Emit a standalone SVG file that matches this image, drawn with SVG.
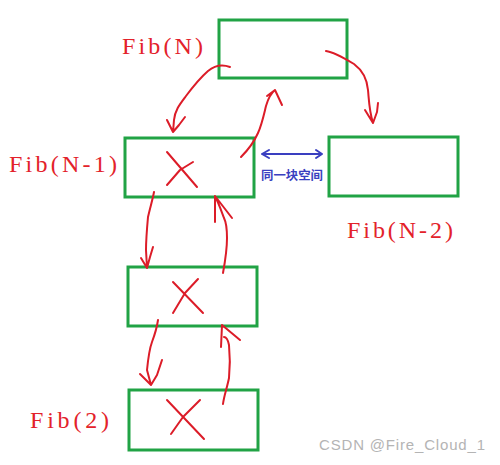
<svg xmlns="http://www.w3.org/2000/svg" width="500" height="465" viewBox="0 0 500 465">
<defs>
<style>
.box{fill:none;stroke:#21a345;stroke-width:3}
.lbl{font-family:"Liberation Serif",serif;font-size:24px;fill:#e3222a}
.red{fill:none;stroke:#dc1c28;stroke-width:2;stroke-linecap:round;stroke-linejoin:round}
.blue{fill:none;stroke:#3a3fc0;stroke-width:2;stroke-linecap:round;stroke-linejoin:round}
.note{font-family:"Noto Sans CJK SC","Liberation Sans",sans-serif;font-size:12px;font-weight:bold;fill:#3a3fc0}
.wm{font-family:"Liberation Sans",sans-serif;font-size:15px;fill:#b4b4b4}
</style>
</defs>
<rect width="500" height="465" fill="#ffffff"/>
<g id="fibN">
<rect class="box" x="219" y="20" width="128" height="58"/>
<text class="lbl" x="122" y="54" textLength="81" lengthAdjust="spacing">Fib(N)</text>
</g>
<g id="fibN1">
<rect class="box" x="125" y="138" width="129" height="59"/>
<path class="red" d="M167,152 L197,187 M167,185 L180,170 L193,162"/>
<text class="lbl" x="9" y="172" textLength="108" lengthAdjust="spacing">Fib(N-1)</text>
</g>
<g id="fibN2">
<rect class="box" x="329" y="137" width="129" height="59"/>
<text class="lbl" x="347" y="238" textLength="106" lengthAdjust="spacing">Fib(N-2)</text>
</g>
<g id="fib3">
<rect class="box" x="128" y="267" width="129" height="59"/>
<path class="red" d="M173,282 L203,313 M173,313 L185,293 L198,279"/>
</g>
<g id="fib2">
<rect class="box" x="129" y="390" width="129" height="60"/>
<path class="red" d="M167,400 L204,439 M171,434 L183,417 L200,400"/>
<text class="lbl" x="30" y="428" textLength="79" lengthAdjust="spacing">Fib(2)</text>
</g>
<g id="connectors">
<path class="red" d="M230,67 C222,64 214,66 208,71 C200,78 192,88 186,96 C180,104 175,110 174,120 L173,132 M167,120 L173,132 M185,117 L179,125 L173,132"/>
<path class="red" d="M241,157 C248,150 254,142 258,133 C262,124 264,114 266,106 C268,99 270,94 275,90 M267,96 L275,90 L282,105"/>
<path class="red" d="M326,51 C334,52 344,58 354,64 C362,70 367,78 368,90 C369,100 369,110 373,123 M365,110 L373,123 M378,103 L377,112 L373,123"/>
<path class="red" d="M154,192 C153,198 150,208 148,217 C147,228 146,240 146,250 L147,268 M141,258 L147,268 M153,247 L150,257 L147,268"/>
<path class="red" d="M223,273 C225,262 227,250 227,238 C227,230 227,224 224,218 C221,210 219,204 215,196 M215,222 L215,196 L232,218"/>
<path class="red" d="M158,320 C157,327 155,334 152,342 C149,350 148,360 147,370 L151,385 M140,374 L151,385 M162,360 L157,375 L151,385"/>
<path class="red" d="M223,404 C224,396 227,388 229,378 C230,368 230,355 229,345 C228,340 226,337 224,337 M221,347 L222,325 L240,340"/>
<path class="blue" d="M262,154 L322,154 M269,150 L262,154 L269,158 M316,150 L322,154 L316,158"/>
<text class="note" x="261" y="180" textLength="62" lengthAdjust="spacingAndGlyphs">同一块空间</text>
</g>
<text class="wm" x="319" y="450" textLength="166" lengthAdjust="spacing">CSDN @Fire_Cloud_1</text>
</svg>
